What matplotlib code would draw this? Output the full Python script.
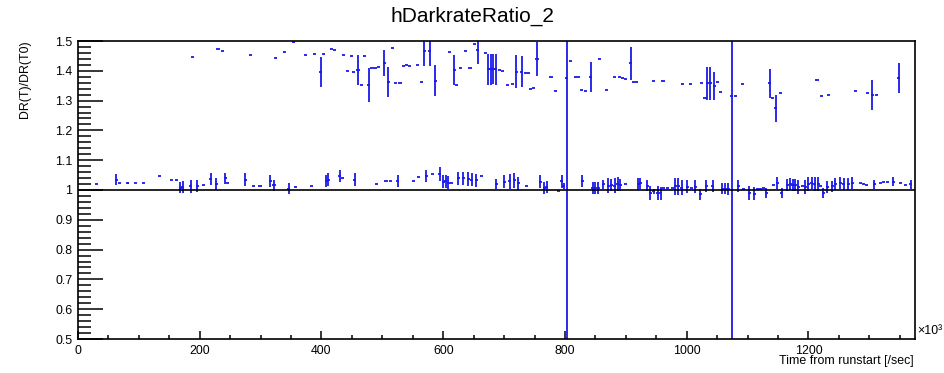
import matplotlib
matplotlib.use("Agg")
import matplotlib.pyplot as plt
from matplotlib.ticker import MultipleLocator, FuncFormatter

plt.rcParams['font.family'] = ['Liberation Sans', 'DejaVu Sans']

# Time bins (x10^3 s), ratio values and their errors
lower_x = [30, 63, 68, 82, 95, 107, 134, 153, 162, 168, 172, 185, 196, 206, 218, 227, 242, 246,
           275, 288, 299, 316, 322, 346, 357, 384, 408, 411, 430, 434, 455, 491, 506, 513, 525,
           551, 560, 572, 583, 594, 600, 604, 608, 614, 625, 633, 641, 647, 654, 663, 687, 700,
           709, 717, 723, 737, 759, 766, 770, 789, 795, 798, 828, 846, 850, 855, 863, 871, 876,
           882, 887, 891, 900, 920, 924, 935, 940, 946, 952, 957, 962, 968, 976, 981, 986, 992,
           1001, 1008, 1014, 1022, 1032, 1043, 1058, 1063, 1068, 1085, 1093, 1103, 1111, 1116,
           1121, 1126, 1131, 1142, 1149, 1156, 1165, 1170, 1174, 1178, 1183, 1190, 1195, 1200,
           1205, 1210, 1216, 1220, 1224, 1231, 1239, 1244, 1252, 1258, 1265, 1272, 1285, 1290,
           1296, 1308, 1318, 1324, 1330, 1339, 1351, 1359, 1368]
lower_y = [1.021, 1.035, 1.022, 1.023, 1.023, 1.023, 1.046, 1.034, 1.032, 1.008, 1.010, 1.012,
           1.012, 1.017, 1.037, 1.020, 1.039, 1.022, 1.035, 1.013, 1.013, 1.031, 1.016, 1.004,
           1.009, 1.013, 1.030, 1.035, 1.048, 1.040, 1.035, 1.020, 1.031, 1.031, 1.030, 1.031,
           1.045, 1.047, 1.054, 1.053, 1.028, 1.030, 1.025, 1.022, 1.039, 1.039, 1.037, 1.035,
           1.033, 1.048, 1.021, 1.028, 1.030, 1.032, 1.022, 1.013, 1.028, 1.008, 1.010, 0.998,
           1.030, 1.015, 1.031, 1.008, 1.008, 1.006, 1.020, 1.015, 1.018, 1.015, 1.020, 1.017,
           1.020, 1.020, 1.022, 1.015, 0.990, 0.995, 0.990, 0.989, 1.006, 1.006, 1.006, 1.012,
           1.012, 1.008, 1.011, 1.008, 1.011, 0.985, 1.012, 1.012, 1.005, 1.005, 1.003, 1.012,
           1.005, 0.990, 0.988, 1.005, 1.005, 1.008, 0.990, 1.017, 1.022, 0.990, 1.017, 1.020,
           1.017, 1.017, 1.010, 1.015, 1.010, 1.020, 1.022, 1.020, 1.020, 1.012, 0.990, 1.010,
           1.012, 1.020, 1.022, 1.020, 1.020, 1.022, 1.024, 1.020, 1.018, 1.020, 1.022, 1.026,
           1.028, 1.028, 1.022, 1.018, 1.020]
lower_err = [0, 0.018, 0, 0.004, 0, 0, 0, 0, 0, 0.019, 0.019, 0.021, 0.020, 0, 0.020, 0.020,
             0.019, 0, 0.021, 0, 0, 0.020, 0.018, 0.018, 0, 0, 0.020, 0.023, 0.020, 0, 0.021,
             0, 0, 0, 0.020, 0, 0, 0.021, 0, 0.024, 0.022, 0.022, 0.022, 0, 0.022, 0.022, 0.024,
             0.022, 0.022, 0, 0.017, 0.022, 0.025, 0.025, 0.022, 0, 0.022, 0.020, 0.020, 0,
             0.022, 0.010, 0.020, 0.020, 0.020, 0.020, 0.015, 0.025, 0.020, 0.025, 0.022, 0.020,
             0, 0.020, 0.018, 0.020, 0.022, 0.010, 0.022, 0.022, 0, 0, 0, 0.028, 0.028, 0.025,
             0.022, 0, 0.022, 0.017, 0.020, 0.020, 0.020, 0.020, 0.020, 0.020, 0, 0.022, 0.022,
             0, 0, 0, 0.018, 0, 0.020, 0.017, 0.020, 0.020, 0.020, 0.020, 0.025, 0, 0.025, 0.022,
             0.020, 0.022, 0.022, 0, 0.018, 0.020, 0.018, 0.020, 0.020, 0.020, 0.020, 0.020, 0,
             0, 0, 0.015, 0, 0, 0, 0.016, 0, 0, 0.015]

upper_x = [188, 230, 237, 283, 325, 340, 354, 373, 389, 399, 403, 417, 422, 436, 442, 449, 452,
           460, 465, 470, 478, 483, 488, 493, 503, 510, 517, 522, 529, 534, 540, 545, 557, 565,
           569, 578, 587, 611, 618, 622, 628, 636, 644, 651, 657, 669, 674, 678, 682, 686, 692,
           698, 705, 713, 720, 729, 735, 740, 743, 748, 754, 777, 784, 809, 817, 822, 827, 833,
           842, 856, 868, 882, 889, 894, 899, 908, 913, 918, 945, 961, 993, 1006, 1025, 1030,
           1034, 1039, 1045, 1050, 1055, 1080, 1091, 1136, 1141, 1146, 1154, 1214, 1221, 1233,
           1278, 1297, 1305, 1311, 1348]
upper_y = [1.445, 1.474, 1.466, 1.454, 1.443, 1.464, 1.498, 1.454, 1.457, 1.397, 1.457, 1.473,
           1.470, 1.453, 1.399, 1.450, 1.397, 1.403, 1.352, 1.450, 1.352, 1.408, 1.410, 1.413,
           1.426, 1.362, 1.475, 1.360, 1.360, 1.417, 1.420, 1.416, 1.419, 1.363, 1.467, 1.467,
           1.367, 1.464, 1.403, 1.352, 1.408, 1.467, 1.408, 1.490, 1.469, 1.460, 1.405, 1.405,
           1.407, 1.405, 1.403, 1.400, 1.352, 1.355, 1.397, 1.397, 1.394, 1.394, 1.339, 1.341,
           1.440, 1.380, 1.333, 1.433, 1.380, 1.378, 1.336, 1.333, 1.380, 1.440, 1.336, 1.380,
           1.378, 1.376, 1.374, 1.425, 1.363, 1.363, 1.367, 1.367, 1.357, 1.355, 1.360, 1.309,
           1.358, 1.358, 1.349, 1.362, 1.330, 1.315, 1.356, 1.358, 1.308, 1.274, 1.325, 1.369,
           1.315, 1.318, 1.332, 1.325, 1.318, 1.318, 1.377]
upper_err = [0, 0, 0, 0, 0, 0, 0, 0, 0, 0.050, 0, 0, 0, 0, 0, 0, 0, 0.050, 0, 0, 0.056, 0, 0,
             0, 0.045, 0.050, 0, 0, 0, 0, 0, 0, 0, 0, 0.050, 0.050, 0.053, 0, 0.050, 0, 0, 0,
             0, 0, 0.045, 0, 0.053, 0.053, 0.050, 0.053, 0, 0, 0, 0, 0.056, 0.053, 0, 0, 0, 0,
             0.056, 0, 0, 0, 0, 0, 0, 0, 0.050, 0, 0, 0, 0, 0, 0, 0.056, 0, 0, 0, 0, 0, 0, 0, 0,
             0.056, 0.056, 0.047, 0, 0, 0, 0, 0.048, 0, 0.046, 0, 0, 0, 0, 0, 0, 0.050, 0, 0.050]

# Two bins whose errors run off the whole frame
spike_x = [803, 1074]
spike_y = [1.376, 1.315]
spike_err = [5.0, 5.0]

bin_half = 2.5
blue = '#1a1ae8'

fig = plt.figure(figsize=(9.45, 3.73), dpi=100)
ax = fig.add_axes([78 / 945, 34 / 373, 837 / 945, 298 / 373])

ekw = dict(fmt='none', ecolor=blue, elinewidth=1.3, capsize=0)
ax.errorbar(lower_x, lower_y, xerr=bin_half, yerr=lower_err, **ekw)
ax.errorbar(upper_x, upper_y, xerr=bin_half, yerr=upper_err, **ekw)
ax.errorbar(spike_x, spike_y, xerr=bin_half, yerr=spike_err, **ekw)

ax.axhline(1.0, color='black', lw=1.2, zorder=3)

ax.set_xlim(0, 1375)
ax.set_ylim(0.5, 1.5)

ax.xaxis.set_major_locator(MultipleLocator(200))
ax.xaxis.set_minor_locator(MultipleLocator(50))
ax.yaxis.set_major_locator(MultipleLocator(0.1))
ax.yaxis.set_minor_locator(MultipleLocator(0.02))

ax.yaxis.set_major_formatter(FuncFormatter(
    lambda v, p: '1' if abs(v - 1) < 1e-9 else f'{v:.1f}'))
ax.xaxis.set_major_formatter(FuncFormatter(lambda v, p: f'{v:.0f}'))

ax.tick_params(axis='both', which='both', direction='in', top=False, right=False,
               labelsize=8.9, colors='black', width=1.1)
ax.tick_params(axis='y', which='major', length=18, pad=4)
ax.tick_params(axis='y', which='minor', length=9)
ax.tick_params(axis='x', which='major', length=5.8, pad=4)
ax.tick_params(axis='x', which='minor', length=2.9)

for s in ax.spines.values():
    s.set_linewidth(1.2)
    s.set_color('black')

fig.text(472 / 945, 1 - 16 / 373, 'hDarkrateRatio_2', ha='center', va='center', fontsize=15)
fig.text(25 / 945, 1 - 40 / 373, 'DR(T)/DR(T0)', rotation=90, ha='center', va='top',
         fontsize=8.9)
fig.text(914 / 945, 1 - 361 / 373, 'Time from runstart [/sec]', ha='right', va='center',
         fontsize=8.9)
fig.text(917 / 945, 1 - 331 / 373, '×10³', ha='left', va='center', fontsize=8.9)

fig.savefig('out.png', dpi=100)
